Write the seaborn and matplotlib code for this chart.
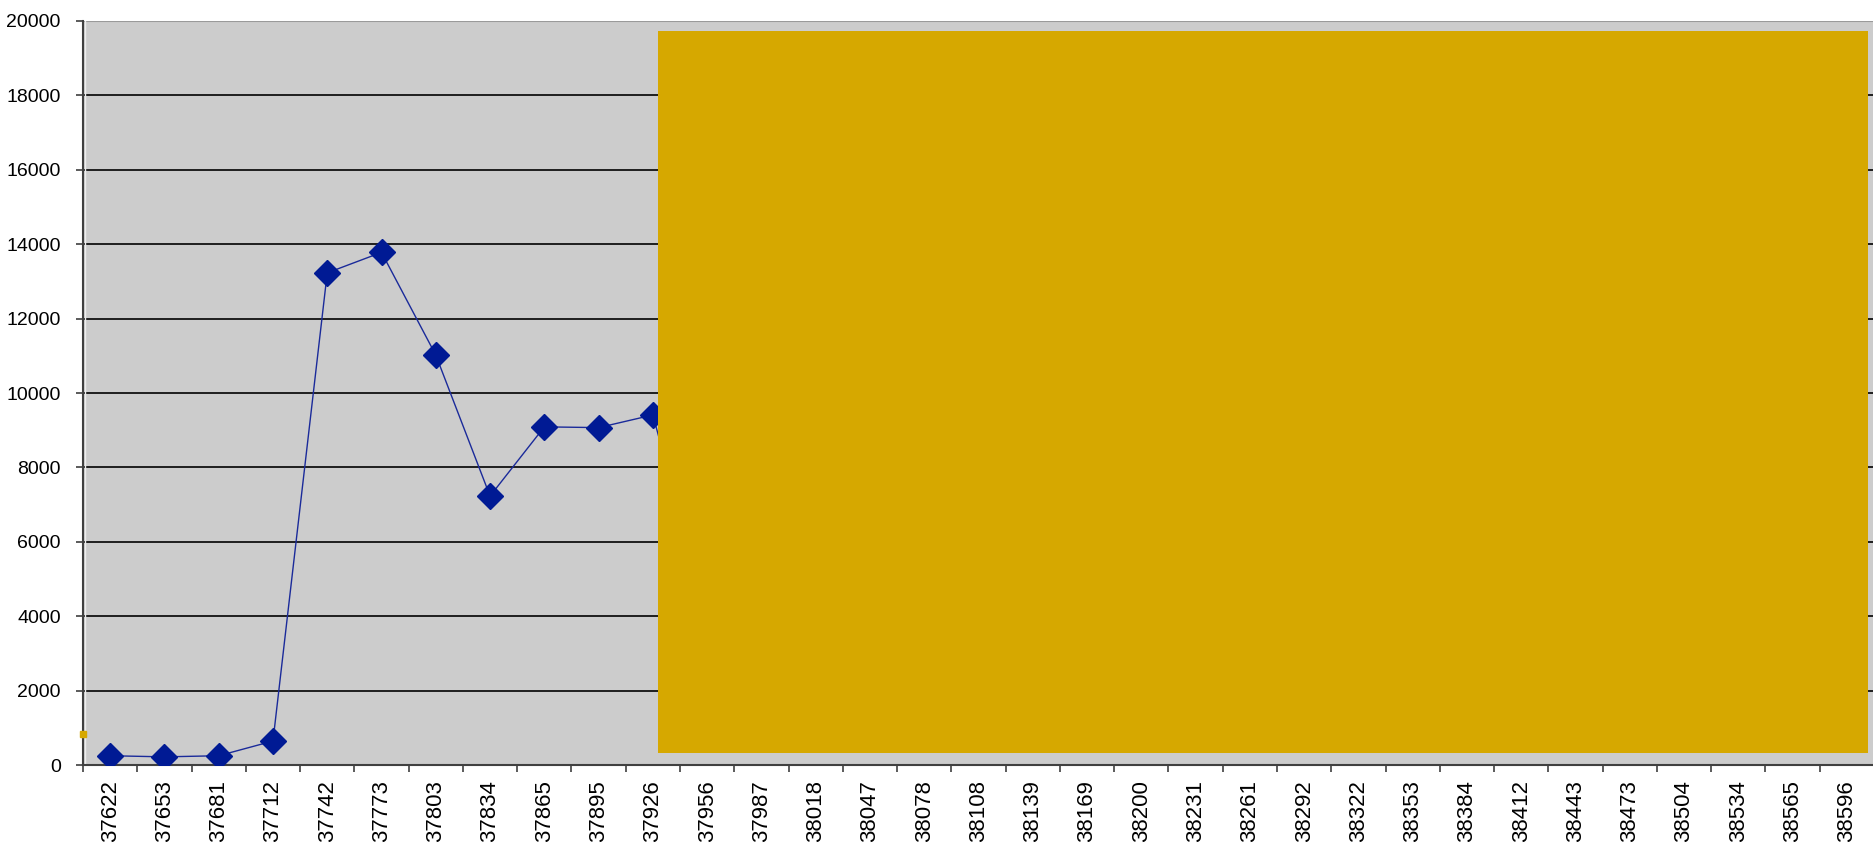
import numpy as np
import pandas as pd
import matplotlib
matplotlib.use("Agg")
import matplotlib.pyplot as plt
from matplotlib.patches import Rectangle
import seaborn as sns

# Month serials shown on the category axis
categories = [37622, 37653, 37681, 37712, 37742, 37773, 37803, 37834, 37865,
              37895, 37926, 37956, 37987, 38018, 38047, 38078, 38108, 38139,
              38169, 38200, 38231, 38261, 38292, 38322, 38353, 38384, 38412,
              38443, 38473, 38504, 38534, 38565, 38596]

# Observed series values (first months)
series_values = [250, 220, 250, 645, 13230, 13780, 11020, 7230, 9090, 9070,
                 9410, 4000]

# Second series: single visible point at the axis edge
second_value = [840]

y_ticks = [0, 2000, 4000, 6000, 8000, 10000, 12000, 14000, 16000, 18000, 20000]

sns.set_theme(style="white")
plt.rcParams['font.family'] = ['Liberation Sans', 'DejaVu Sans']

fig = plt.figure(figsize=(18.74, 8.46), dpi=100)
ax = fig.add_axes([0.0443, 0.0957, 0.9557, 0.8795])
ax.set_facecolor("#CCCCCC")

df = pd.DataFrame({"pos": np.arange(len(series_values)), "value": series_values})
sns.lineplot(data=df, x="pos", y="value", ax=ax, color="#1A2A9A", linewidth=1.0,
             marker="D", markersize=13, markerfacecolor="#001A94",
             markeredgecolor="#001A94", markeredgewidth=1, zorder=3)

ax.plot([-0.5], second_value, marker="s", markersize=4.5, color="#D6A800",
        linestyle="none", clip_on=False, zorder=4)

n = len(categories)
ax.set_xlim(-0.5, n - 0.5)
ax.set_ylim(0, 20000)

# Gridlines
for v in y_ticks[1:-1]:
    ax.axhline(v, color="black", linewidth=1.2, zorder=1)
ax.axhline(20000, color="#9A9A9A", linewidth=1.5, zorder=1)

# Overlay panel
ax.add_patch(Rectangle((0.321, 0.0161), 0.6757, 0.9705, transform=ax.transAxes,
                       facecolor="#D6A800", edgecolor="none", zorder=5))

ax.set_yticks(y_ticks)
ax.set_yticklabels([str(v) for v in y_ticks], fontsize=14, color="black")
ax.set_xticks(np.arange(n))
ax.set_xticklabels([str(c) for c in categories], rotation=90, fontsize=16,
                   color="black")
ax.set_xticks(np.arange(n + 1) - 0.5, minor=True)
ax.tick_params(axis="x", which="major", length=0, pad=11)
ax.tick_params(axis="x", which="minor", length=5, width=1.2, color="#404040",
               direction="out", bottom=True)
ax.tick_params(axis="y", which="major", length=5, width=1.2, color="#404040",
               direction="out", left=True, pad=11)

ax.set_xlabel("")
ax.set_ylabel("")

for side in ["top", "right"]:
    ax.spines[side].set_visible(False)
for side in ["left", "bottom"]:
    ax.spines[side].set_color("#404040")
    ax.spines[side].set_linewidth(1.5)

# thin light line just inside the value axis
ax.axvline(-0.46, color="#EEEEEE", linewidth=1.0, zorder=2)

fig.savefig("out.png", dpi=100, facecolor="white")
